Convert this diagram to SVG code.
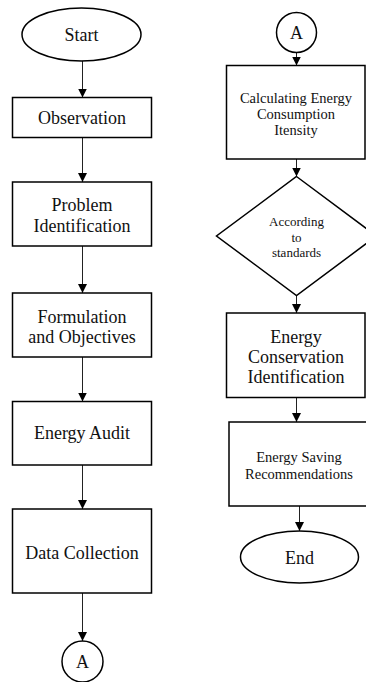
<svg xmlns="http://www.w3.org/2000/svg" width="366" height="682" viewBox="0 0 366 682" font-family="'Liberation Serif', 'DejaVu Serif', serif">
<defs>
<marker id="ah" markerUnits="userSpaceOnUse" markerWidth="9" markerHeight="9" viewBox="0 0 9 9" refX="9" refY="4.5" orient="auto">
<path d="M0,0 L9,4.5 L0,9 z" fill="#000"/>
</marker>
</defs>
<style>
.n{fill:#fff;stroke:#000;stroke-width:1.5}
.c{fill:none;stroke:#222;stroke-width:1;marker-end:url(#ah)}
text{font-family:'Liberation Serif','DejaVu Serif',serif;fill:#111;text-anchor:middle;dominant-baseline:central}
.l{font-size:18px}
.s{font-size:14.5px}
.d{font-size:13px}
</style>
<rect width="366" height="682" fill="#fff"/>
<g id="connectors">
<line class="c" x1="82.5" y1="61" x2="82.5" y2="97.5"/>
<line class="c" x1="82.5" y1="137.5" x2="82.5" y2="182"/>
<line class="c" x1="82.5" y1="246" x2="82.5" y2="293"/>
<line class="c" x1="82.5" y1="357" x2="82.5" y2="401.5"/>
<line class="c" x1="82.5" y1="465" x2="82.5" y2="509"/>
<line class="c" x1="82.5" y1="593" x2="82.5" y2="641"/>
<line class="c" x1="296.5" y1="52.5" x2="296.5" y2="65.5"/>
<line class="c" x1="296.5" y1="159" x2="296.5" y2="176.5"/>
<line class="c" x1="296.5" y1="295.5" x2="296.5" y2="313"/>
<line class="c" x1="296.5" y1="397.5" x2="296.5" y2="422"/>
<line class="c" x1="299.5" y1="506" x2="299.5" y2="531"/>
</g>
<g id="start">
<ellipse class="n" cx="81.5" cy="34.5" rx="59.5" ry="26.5"/>
<text class="l" x="81.5" y="35" font-family="Liberation Serif, serif">Start</text>
</g>
<g id="observation">
<rect class="n" x="12.5" y="97.5" width="139" height="40"/>
<text class="l" x="82" y="118">Observation</text>
</g>
<g id="problem">
<rect class="n" x="12.5" y="182" width="139" height="64"/>
<text class="l" x="82" y="205">Problem</text>
<text class="l" x="82" y="226">Identification</text>
</g>
<g id="formulation">
<rect class="n" x="12.5" y="293" width="139" height="64"/>
<text class="l" x="82" y="316.5">Formulation</text>
<text class="l" x="82" y="336.5">and Objectives</text>
</g>
<g id="audit">
<rect class="n" x="12.5" y="401.5" width="139" height="63.5"/>
<text class="l" x="82" y="433">Energy Audit</text>
</g>
<g id="data">
<rect class="n" x="12.5" y="509" width="139" height="84"/>
<text class="l" x="82" y="552.5">Data Collection</text>
</g>
<g id="connA1">
<circle class="n" cx="82.5" cy="661.5" r="20.5"/>
<text class="l" x="82.5" y="662">A</text>
</g>
<g id="connA2">
<circle class="n" cx="296.5" cy="32.5" r="20"/>
<text class="l" x="296.5" y="33">A</text>
</g>
<g id="calc">
<rect class="n" x="226.5" y="65.5" width="138.5" height="93.5"/>
<text class="s" x="296" y="97.5">Calculating Energy</text>
<text class="s" x="296" y="113.5">Consumption</text>
<text class="s" x="296" y="129.5">Itensity</text>
</g>
<g id="decision">
<polygon class="n" points="296.5,176.5 376.5,236 296.5,295.5 216.5,236"/>
<text class="d" x="296.5" y="221.5">According</text>
<text class="d" x="296.5" y="237.5">to</text>
<text class="d" x="296.5" y="252.5">standards</text>
</g>
<g id="conservation">
<rect class="n" x="226.5" y="313" width="138.5" height="84.5"/>
<text class="l" x="296" y="336.5">Energy</text>
<text class="l" x="296" y="357">Conservation</text>
<text class="l" x="296" y="377">Identification</text>
</g>
<g id="saving">
<rect class="n" x="229" y="422" width="145" height="84"/>
<text class="s" x="299" y="456.5">Energy Saving</text>
<text class="s" x="299" y="473.5">Recommendations</text>
</g>
<g id="end">
<ellipse class="n" cx="299.5" cy="557" rx="59" ry="26"/>
<text class="l" x="299.5" y="557.5">End</text>
</g>
</svg>
